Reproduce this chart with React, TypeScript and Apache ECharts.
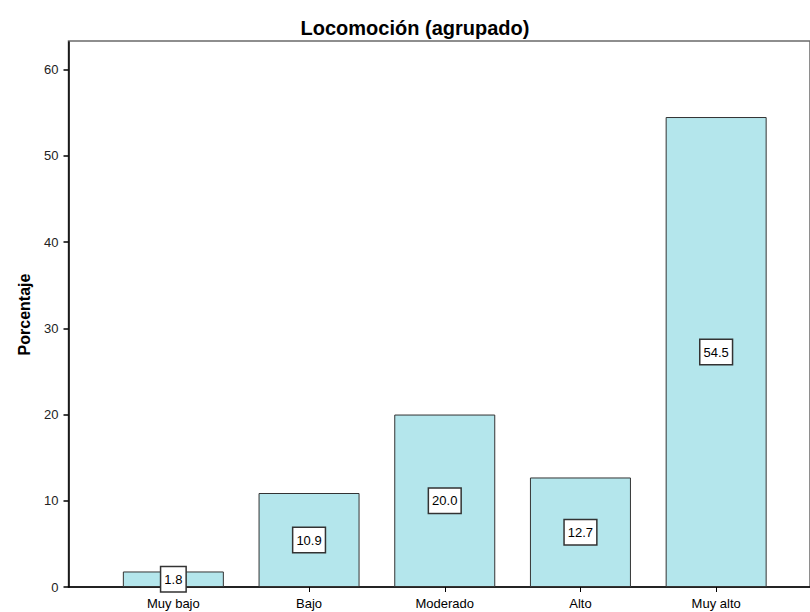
import React, { useEffect, useRef } from "react";
import * as echarts from "echarts";

const titleText = "Locomoción (agrupado)";
const yAxisName = "Porcentaje";
const categories = ["Muy bajo", "Bajo", "Moderado", "Alto", "Muy alto"];
const percentages = [1.8, 10.9, 20.0, 12.7, 54.5];
const yTicks = [0, 10, 20, 30, 40, 50, 60];

const FONT = "'Liberation Sans', Arial, Helvetica, sans-serif";

export default function App() {
  const ref = useRef<HTMLDivElement>(null);
  useEffect(() => {
    if (!ref.current) return;
    const chart = echarts.init(ref.current, undefined, { renderer: "svg" });
    chart.setOption({
      animation: false,
      backgroundColor: "#ffffff",
      textStyle: { fontFamily: FONT },
      title: {
        text: titleText,
        left: 410,
        textAlign: "center",
        top: 13,
        textStyle: { fontFamily: FONT, fontSize: 20, fontWeight: "bold", color: "#000" },
      },
      grid: [
        { left: 105.5, right: 26, top: 42, bottom: 25, containLabel: false },
        {
          left: 68.5,
          right: -6,
          top: 41,
          bottom: 25,
          show: true,
          borderColor: "#6a6a6a",
          borderWidth: 1.5,
          backgroundColor: "transparent",
          z: 0,
        },
      ],
      xAxis: [
        {
          type: "category",
          gridIndex: 0,
          data: categories,
          axisLine: { show: false },
          axisTick: { show: true, alignWithLabel: true, length: 5, lineStyle: { color: "#000", width: 1 } },
          axisLabel: { margin: 10, fontSize: 13, color: "#000", fontFamily: FONT },
          splitLine: { show: false },
        },
        {
          type: "value",
          gridIndex: 1,
          min: 0,
          max: 1,
          axisLine: { show: true, lineStyle: { color: "#000", width: 1.5 } },
          axisTick: { show: false },
          axisLabel: { show: false },
          splitLine: { show: false },
        },
      ],
      yAxis: [
        {
          type: "value",
          gridIndex: 0,
          min: 0,
          max: 63.2,
          interval: 10,
          offset: 37,
          name: yAxisName,
          nameLocation: "middle",
          nameGap: 36,
          nameTextStyle: { fontFamily: FONT, fontSize: 16, fontWeight: "bold", color: "#000" },
          axisLine: { show: true, lineStyle: { color: "#000", width: 1.5 } },
          axisTick: { show: true, length: 5, lineStyle: { color: "#000", width: 1.5 } },
          axisLabel: {
            margin: 10,
            fontSize: 13,
            color: "#222",
            fontFamily: FONT,
            showMaxLabel: false,
            formatter: (v: number) => (yTicks.includes(v) ? String(v) : ""),
          },
          splitLine: { show: false },
        },
        {
          type: "value",
          gridIndex: 1,
          show: false,
          min: 0,
          max: 1,
          splitLine: { show: false },
        },
      ],
      series: [
        {
          type: "bar",
          xAxisIndex: 0,
          yAxisIndex: 0,
          data: percentages,
          barWidth: 101,
          itemStyle: { color: "#b4e6ec", borderColor: "#333", borderWidth: 1 },
          label: {
            show: true,
            position: "inside",
            formatter: (p: any) => Number(p.value).toFixed(1),
            fontFamily: FONT,
            fontSize: 13,
            lineHeight: 13,
            color: "#000",
            backgroundColor: "#fff",
            borderColor: "#333",
            borderWidth: 1.5,
            padding: [6, 3, 5, 3],
          },
          z: 3,
        },
      ],
    });
    return () => chart.dispose();
  }, []);
  return (
    <div
      ref={ref}
      style={{ position: "fixed", left: 0, top: 0, width: 810, height: 612, background: "#fff" }}
    />
  );
}
